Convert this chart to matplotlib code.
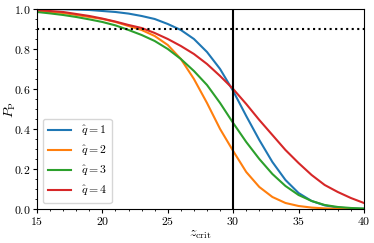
import matplotlib
matplotlib.use('Agg')
import matplotlib.pyplot as plt
from matplotlib.ticker import AutoMinorLocator

plt.rcParams['font.family'] = 'serif'
plt.rcParams['font.serif'] = ['cmr10']
plt.rcParams['mathtext.fontset'] = 'cm'
plt.rcParams['axes.formatter.use_mathtext'] = True
plt.rcParams['font.size'] = 8.5

z_crit = list(range(15, 41))
p_q1 = [1.0, 0.9995, 0.999, 0.997, 0.995, 0.99, 0.985, 0.977, 0.965, 0.95, 0.925, 0.895, 0.85,
        0.785, 0.70, 0.59, 0.465, 0.345, 0.235, 0.145, 0.08, 0.04, 0.018, 0.007, 0.003, 0.001]
p_q2 = [0.99, 0.985, 0.98, 0.97, 0.96, 0.95, 0.935, 0.915, 0.895, 0.865, 0.82, 0.75, 0.65,
        0.53, 0.40, 0.29, 0.185, 0.11, 0.06, 0.03, 0.015, 0.007, 0.003, 0.001, 0.0, 0.0]
p_q3 = [0.985, 0.978, 0.97, 0.96, 0.948, 0.935, 0.918, 0.895, 0.87, 0.84, 0.80, 0.75, 0.69,
        0.62, 0.53, 0.43, 0.335, 0.25, 0.175, 0.115, 0.07, 0.04, 0.02, 0.01, 0.005, 0.002]
p_q4 = [0.995, 0.99, 0.985, 0.975, 0.965, 0.952, 0.937, 0.92, 0.905, 0.88, 0.85, 0.815, 0.775,
        0.725, 0.665, 0.60, 0.525, 0.445, 0.37, 0.295, 0.23, 0.17, 0.12, 0.085, 0.055, 0.03]
labels = [r'$\hat{q} = 1$', r'$\hat{q} = 2$', r'$\hat{q} = 3$', r'$\hat{q} = 4$']
p_thresh = 0.9
z_line = 30

fig = plt.figure(figsize=(3.74, 2.43), dpi=100)
ax = fig.add_axes([0.099, 0.14, 0.874, 0.823])

for p, lab in zip([p_q1, p_q2, p_q3, p_q4], labels):
    ax.plot(z_crit, p, lw=1.5, label=lab)

ax.axhline(p_thresh, color='k', ls=':', lw=1.5)
ax.axvline(z_line, color='k', lw=1.5)

ax.set_xlim(15, 40)
ax.set_ylim(0, 1)
ax.xaxis.set_minor_locator(AutoMinorLocator(5))
ax.yaxis.set_minor_locator(AutoMinorLocator(4))
ax.tick_params(which='major', length=3, pad=1.5)
ax.tick_params(which='minor', length=1.5)
ax.set_xlabel(r'$z_{\rm crit}$', fontsize=10, labelpad=1)
ax.set_ylabel(r'$P_{\rm P}$', fontsize=10)
ax.yaxis.set_label_coords(-0.058, 0.5)
ax.legend(loc='lower left')

fig.savefig('out.png', dpi=100)
